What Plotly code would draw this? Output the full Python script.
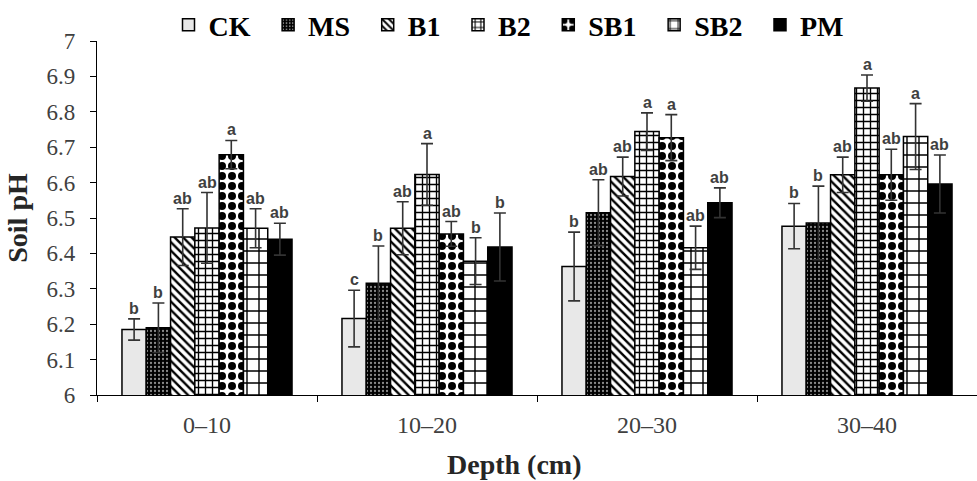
import plotly.graph_objects as go

depths = ["0–10", "10–20", "20–30", "30–40"]
treatments = ["CK", "MS", "B1", "B2", "SB1", "SB2", "PM"]

ph_CK = [6.185, 6.216, 6.363, 6.477]
ph_MS = [6.190, 6.316, 6.515, 6.486]
ph_B1 = [6.446, 6.471, 6.617, 6.622]
ph_B2 = [6.472, 6.623, 6.744, 6.867]
ph_SB1 = [6.679, 6.455, 6.727, 6.622]
ph_SB2 = [6.471, 6.378, 6.416, 6.730]
ph_PM = [6.440, 6.418, 6.543, 6.596]

se_CK = [0.030, 0.080, 0.097, 0.064]
se_MS = [0.070, 0.105, 0.093, 0.104]
se_B1 = [0.080, 0.075, 0.055, 0.050]
se_B2 = [0.100, 0.087, 0.053, 0.037]
se_SB1 = [0.040, 0.035, 0.065, 0.072]
se_SB2 = [0.055, 0.066, 0.061, 0.093]
se_PM = [0.045, 0.096, 0.042, 0.082]

let_CK = ["b", "c", "b", "b"]
let_MS = ["b", "b", "ab", "b"]
let_B1 = ["ab", "ab", "ab", "ab"]
let_B2 = ["ab", "a", "a", "a"]
let_SB1 = ["a", "ab", "a", "ab"]
let_SB2 = ["ab", "b", "ab", "a"]
let_PM = ["ab", "b", "ab", "ab"]

values = [ph_CK, ph_MS, ph_B1, ph_B2, ph_SB1, ph_SB2, ph_PM]
errors = [se_CK, se_MS, se_B1, se_B2, se_SB1, se_SB2, se_PM]
letters = [let_CK, let_MS, let_B1, let_B2, let_SB1, let_SB2, let_PM]

def pat(shape, fg, bg, size, solidity):
    return dict(shape=shape, fgcolor=fg, bgcolor=bg, size=size, solidity=solidity,
                fillmode="overlay", fgopacity=1)

styles = [
    dict(color="#e8e8e8", pattern=dict(shape="")),
    dict(color="black", pattern=pat(".", "#8a8a8a", "black", 4, 0.25)),
    dict(color="white", pattern=pat("\\", "black", "white", 6, 0.4)),
    dict(color="white", pattern=pat("+", "black", "white", 7, 0.35)),
    dict(color="white", pattern=pat(".", "black", "white", 10, 0.5)),
    dict(color="white", pattern=pat("+", "black", "white", 12, 0.22)),
    dict(color="black", pattern=dict(shape="")),
]

bargap = 0.227
fig = go.Figure()
for name, v, e, st in zip(treatments, values, errors, styles):
    fig.add_trace(go.Bar(
        name=name + "\u00a0\u2009", x=depths, y=v,
        marker=dict(color=st["color"], pattern=st["pattern"],
                    line=dict(color="black", width=1.5)),
        error_y=dict(type="data", array=e, color="#333333", thickness=1.6, width=6),
    ))

n = len(treatments)
bw = (1 - bargap) / n
annotations = []
for i, (v, e, L) in enumerate(zip(values, errors, letters)):
    for j in range(len(depths)):
        annotations.append(dict(
            x=j + (i - (n - 1) / 2) * bw, y=v[j] + e[j], xref="x", yref="y",
            text=L[j], showarrow=False, yanchor="bottom", yshift=0,
            font=dict(family="Liberation Sans", size=16, color="#404040", weight="bold"),
        ))
annotations.append(dict(
    x=0.474, y=-0.197, xref="paper", yref="paper", text="<b>Depth (cm)</b>",
    showarrow=False, xanchor="center", yanchor="middle",
    font=dict(family="Liberation Serif", size=28, color="#262626"),
))

fig.update_layout(
    width=977, height=481,
    margin=dict(l=97, r=0, t=40, b=86),
    barmode="group", bargap=bargap, bargroupgap=0,
    plot_bgcolor="white", paper_bgcolor="white",
    font=dict(family="Liberation Serif", color="#404040"),
    legend=dict(orientation="h", x=0.475, xanchor="center", y=1.045, yanchor="middle",
                font=dict(family="Liberation Serif", size=28, color="black", weight="bold"),
                itemwidth=30, tracegroupgap=0, itemclick=False),
    annotations=annotations,
    xaxis=dict(showline=True, linecolor="black", linewidth=1.2, automargin=False,
               ticks="outside", tickson="boundaries", ticklen=6, tickcolor="black",
               ticklabelstandoff=8,
               tickfont=dict(size=24, color="#404040")),
    yaxis=dict(range=[6, 7], dtick=0.1, showline=True, linecolor="black", linewidth=1.2,
               automargin=False,
               ticks="outside", ticklen=6, tickcolor="black", showgrid=False, zeroline=False,
               ticklabelstandoff=10,
               tickfont=dict(size=23, color="#404040"),
               title=dict(text="<b>Soil pH</b>", font=dict(size=28, color="#262626"), standoff=10)),
)

fig.write_html("out.html")
